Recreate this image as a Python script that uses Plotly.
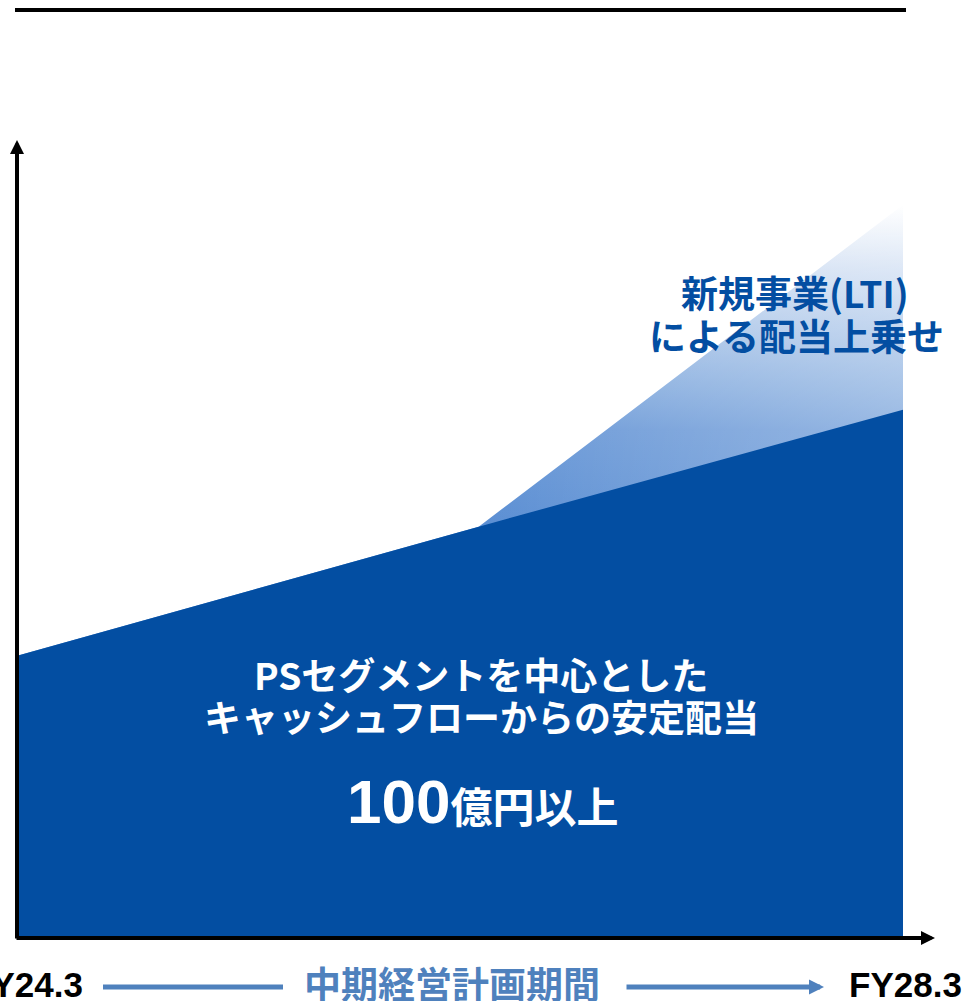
import plotly.graph_objects as go

# ------------------------------------------------------------
#   データ（概念図：配当のイメージ）
# ------------------------------------------------------------
# x は中期経営計画期間の経過率（%）: FY24.3 = 0, FY28.3 = 100
x_points = [0, 52, 100]
base_dividend = [38.4, 56.0, 72.0]   # PSセグメント中心の安定配当
lti_total = [38.4, 56.0, 100.0]      # 新規事業(LTI)による上乗せ後
period_labels = ["FY24.3", "FY28.3"]

DARK_BLUE = "#034EA2"
MID_BLUE = "#4F81BD"
JP_FONT = "Noto Sans CJK JP"
EN_FONT = "Liberation Sans"

W, H = 963, 1001
px_per_x = 8.84
px_per_y = 7.31
x0 = -19 / px_per_x
y0 = -(H - 936) / px_per_y


def xp(px):
    return px / W


def yp(py):
    return 1 - py / H


fig = go.Figure()

# --- 上乗せ部分：縦方向グラデーション ---
fig.add_trace(go.Scatter(
    x=x_points, y=lti_total,
    mode="lines", line=dict(width=0),
    fill="tozeroy",
    fillgradient=dict(
        type="vertical",
        start=lti_total[1], stop=lti_total[2],
        colorscale=[
            [0.0, "rgb(90,142,211)"],
            [0.3, "rgb(107,153,215)"],
            [0.45, "rgb(136,174,223)"],
            [0.8, "rgb(206,221,242)"],
            [1.0, "rgb(255,255,255)"],
        ],
    ),
    hoverinfo="skip", showlegend=False,
))

# --- 横方向に白を重ねて斜めのグラデーションに近づける ---
fig.add_trace(go.Scatter(
    x=x_points, y=lti_total,
    mode="lines", line=dict(width=0),
    fill="tozeroy",
    fillgradient=dict(
        type="horizontal",
        start=x_points[1], stop=x_points[2],
        colorscale=[
            [0.0, "rgba(255,255,255,0)"],
            [1.0, "rgba(255,255,255,0.3)"],
        ],
    ),
    hoverinfo="skip", showlegend=False,
))

# --- 安定配当部分 ---
fig.add_trace(go.Scatter(
    x=x_points, y=base_dividend,
    mode="lines", line=dict(width=0),
    fill="tozeroy", fillcolor=DARK_BLUE,
    hoverinfo="skip", showlegend=False,
))

# --- 軸（矢印） ---
ax_x = -2 / px_per_x
fig.add_annotation(
    x=ax_x, y=(936 - 140) / px_per_y, ax=ax_x, ay=(936 - 940) / px_per_y,
    xref="x", yref="y", axref="x", ayref="y",
    showarrow=True, arrowhead=2, arrowwidth=4, arrowsize=0.7,
    arrowcolor="black", standoff=0, text="",
)
fig.add_annotation(
    x=(935 - 19) / px_per_x, y=(936 - 938) / px_per_y,
    ax=(15 - 19) / px_per_x, ay=(936 - 938) / px_per_y,
    xref="x", yref="y", axref="x", ayref="y",
    showarrow=True, arrowhead=2, arrowwidth=4, arrowsize=0.7,
    arrowcolor="black", standoff=0, text="",
)

# --- 上部の区切り線 ---
fig.add_shape(type="line", xref="paper", yref="paper",
              x0=xp(15), x1=xp(906), y0=yp(10), y1=yp(10),
              line=dict(color="black", width=4))

# --- テキスト ---
def label(text, px, py, size, color, family=JP_FONT):
    fig.add_annotation(
        x=xp(px), y=yp(py), xref="paper", yref="paper",
        text=text, showarrow=False,
        font=dict(family=family, size=size, color=color, weight="bold"),
        xanchor="center", yanchor="middle",
    )


label("新規事業(LTI)", 795, 292, 37, DARK_BLUE)
label("による配当上乗せ", 796, 335, 37, DARK_BLUE)
label("PSセグメントを中心とした", 481, 674, 37, "white")
label("キャッシュフローからの安定配当", 481, 716, 37, "white")
label(f"<span style='font-family:{EN_FONT};font-size:62px'>100</span>億円以上",
      483, 801, 42, "white")

# --- 期間ラベル ---
label(period_labels[0], 26, 984, 35, "black", EN_FONT)
label(period_labels[1], 905, 984, 35, "black", EN_FONT)

label("中期経営計画期間", 452, 983, 37, MID_BLUE)
fig.add_shape(type="line", xref="paper", yref="paper",
              x0=xp(103), x1=xp(283), y0=yp(987), y1=yp(987),
              line=dict(color=MID_BLUE, width=5))
fig.add_annotation(
    x=xp(824), y=yp(987), xref="paper", yref="paper",
    ax=-199, ay=0, showarrow=True, arrowhead=2, arrowwidth=5,
    arrowsize=0.6, arrowcolor=MID_BLUE, standoff=0, text="",
)

fig.update_xaxes(range=[x0, x0 + W / px_per_x], visible=False, fixedrange=True)
fig.update_yaxes(range=[y0, y0 + H / px_per_y], visible=False, fixedrange=True)

fig.update_layout(
    width=W, height=H,
    margin=dict(l=0, r=0, t=0, b=0),
    plot_bgcolor="white", paper_bgcolor="white",
    showlegend=False,
)

fig.write_html(
    "out.html",
    config={"displayModeBar": False},
    post_script="document.body.style.margin='0';document.body.style.overflow='hidden';",
)
